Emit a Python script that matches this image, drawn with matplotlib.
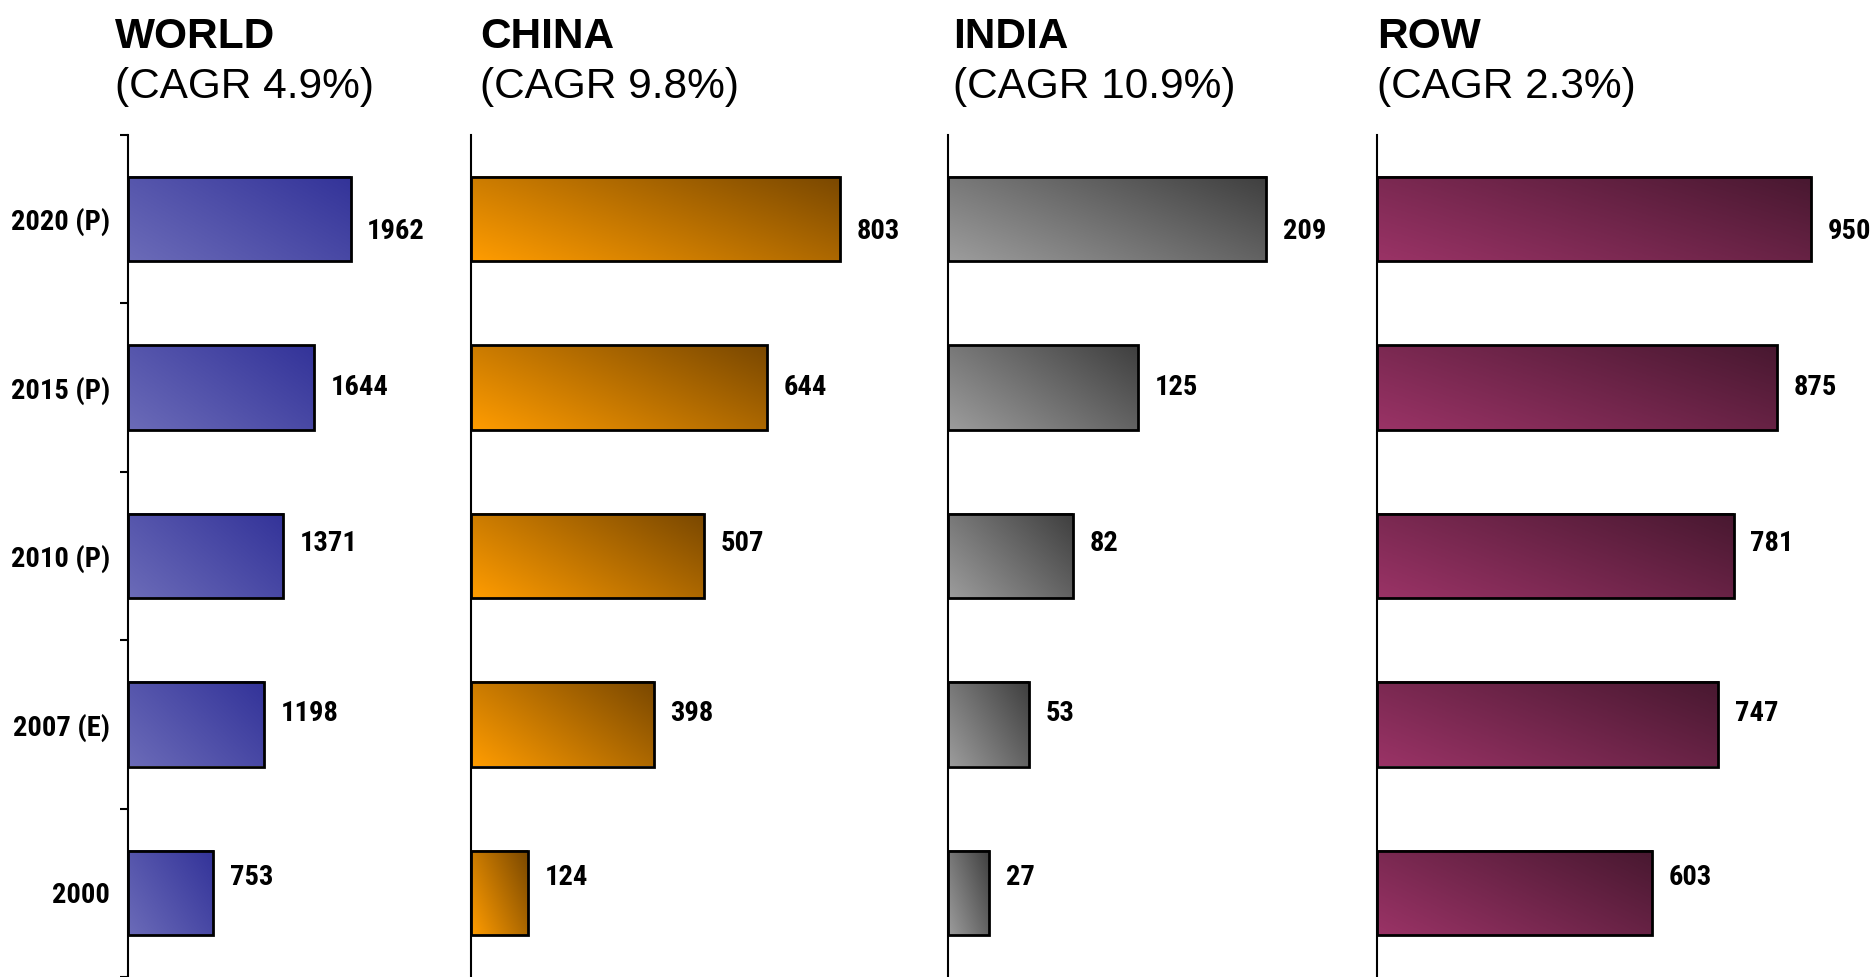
import numpy as np
import matplotlib.pyplot as plt
from matplotlib import font_manager
from matplotlib.colors import LinearSegmentedColormap

# data
years = ['2000', '2007 (E)', '2010 (P)', '2015 (P)', '2020 (P)']
regions = ['WORLD', 'CHINA', 'INDIA', 'ROW']
cagr = ['4.9%', '9.8%', '10.9%', '2.3%']
world = [753, 1198, 1371, 1644, 1962]
china = [124, 398, 507, 644, 803]
india = [27, 53, 82, 125, 209]
row = [603, 747, 781, 875, 950]
series = [world, china, india, row]

# style
W, H = 1876, 977
title_font = ['Liberation Sans', 'DejaVu Sans']
grad_colors = [('#6b6bb8', '#333399'),
               ('#ff9c00', '#7a4800'),
               ('#9c9c9c', '#3f3f3f'),
               ('#9a3366', '#481830')]
# panel placement in pixels: axes left, axes width, x max, title x
panels = [(128, 335, 2954, 115),
          (471, 467, 1017, 480),
          (948, 419, 275, 953),
          (1377, 490, 1073, 1377)]
label_dy = [11, 8, 9, 0, -9]   # small vertical nudges of value labels (pt)

# pick a narrow bold face for the labels (Arial Narrow look)
fonts = font_manager.fontManager.ttflist
names = {f.name for f in fonts}
if 'Liberation Sans Narrow' in names:
    lab = dict(family=['Liberation Sans Narrow', 'DejaVu Sans'], fontstretch='normal', fontsize=22)
elif 'Roboto Condensed' in names:
    lab = dict(family=['Roboto Condensed', 'DejaVu Sans'], fontstretch='normal', fontsize=20.5)
elif any(f.name == 'DejaVu Sans' and 'Condensed' in f.fname and 'Bold' in f.fname for f in fonts):
    lab = dict(family=['DejaVu Sans'], fontstretch='condensed', fontsize=19)
else:
    lab = dict(family=['Liberation Sans', 'DejaVu Sans'], fontstretch='normal', fontsize=18)

fig = plt.figure(figsize=(W / 100, H / 100), dpi=100)
axes_top = 135

yy, xx = np.mgrid[0:1:40j, 0:1:200j]
grad = 0.62 * xx + 0.38 * yy

for k, (vals, (left, width, xmax, tx)) in enumerate(zip(series, panels)):
    ax = fig.add_axes([left / W, 0, width / W, (H - axes_top) / H])
    cmap = LinearSegmentedColormap.from_list('g%d' % k, grad_colors[k])
    pos = np.arange(len(years))
    for i, v in enumerate(vals):
        ax.imshow(grad, extent=[0, v, i - 0.25, i + 0.25], origin='lower',
                  cmap=cmap, aspect='auto', zorder=2, interpolation='bilinear')
    ax.barh(pos, vals, height=0.5, facecolor='none', edgecolor='black',
            linewidth=2, zorder=3)
    for i, v in enumerate(vals):
        ax.annotate(str(v), xy=(v, i), xytext=(12, label_dy[i]),
                    textcoords='offset points', ha='left', va='center',
                    fontweight='bold', annotation_clip=False, **lab)
    ax.set_xlim(0, xmax)
    ax.set_ylim(-0.5, len(years) - 0.5)
    for s in ['top', 'right', 'bottom']:
        ax.spines[s].set_visible(False)
    ax.spines['left'].set_linewidth(1.5)
    ax.set_xticks([])
    if k == 0:
        ax.set_yticks(np.arange(-0.5, len(years)))
        ax.set_yticklabels([])
        ax.tick_params(axis='y', which='major', length=6, width=1.5, direction='out')
        ax.set_yticks(pos, minor=True)
        ax.set_yticklabels(years, minor=True, fontweight='bold', **lab)
        ax.tick_params(axis='y', which='minor', length=0, pad=13)
    else:
        ax.set_yticks([])

    fig.text(tx / W, 1 - 48 / H, regions[k], fontsize=30.5, fontweight='bold',
             family=title_font, ha='left', va='baseline')
    fig.text(tx / W, 1 - 98 / H, '(CAGR %s)' % cagr[k], fontsize=30.5,
             family=title_font, ha='left', va='baseline')

fig.savefig('out.png', dpi=100)
